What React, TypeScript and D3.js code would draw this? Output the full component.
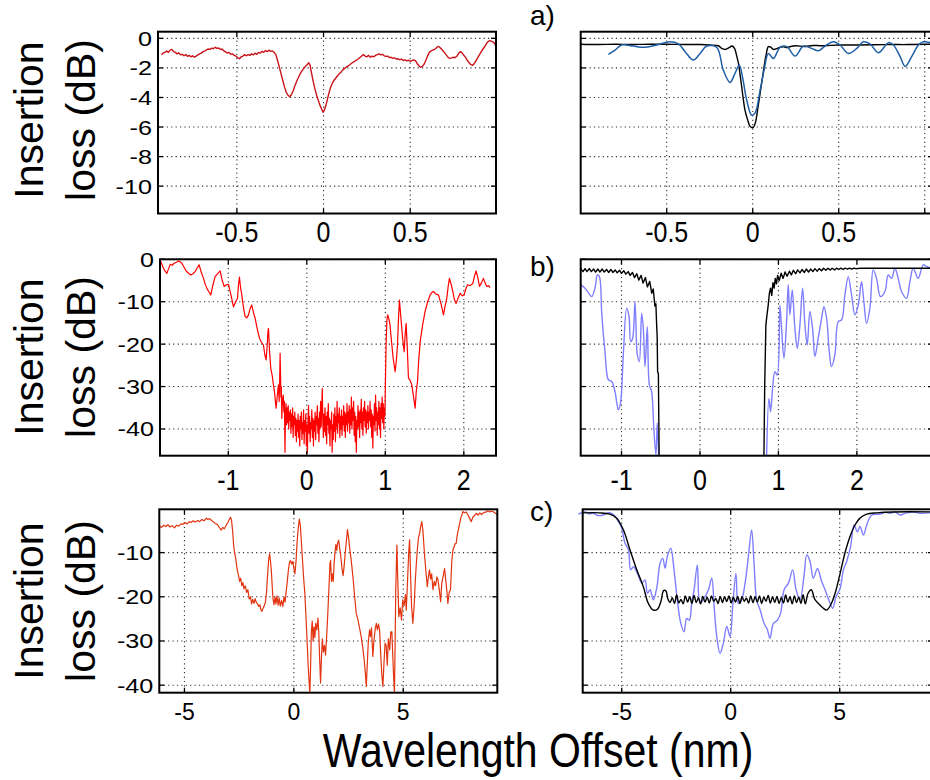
import React from 'react';
import * as d3 from 'd3';

type Pt = [number, number];

// ---------- DATA ----------
// a) measured (left) – insertion loss vs wavelength offset
const aMeasured: Pt[] = [
[-0.935,-1.1],[-0.925,-1.0],[-0.915,-0.95],[-0.905,-0.85],[-0.895,-0.95],[-0.885,-0.8],[-0.875,-0.75],[-0.865,-0.9],[-0.855,-0.95],[-0.845,-1.05],[-0.835,-0.98],[-0.825,-1.12],[-0.815,-1.08],[-0.805,-1.18],[-0.795,-1.1],[-0.785,-1.22],[-0.775,-1.15],[-0.765,-1.25],[-0.755,-1.18],[-0.745,-1.27],[-0.735,-1.2],[-0.725,-1.12],[-0.715,-1.05],[-0.705,-1.0],[-0.695,-0.9],[-0.685,-0.85],[-0.675,-0.78],[-0.665,-0.72],[-0.655,-0.75],[-0.645,-0.66],[-0.635,-0.7],[-0.625,-0.6],[-0.615,-0.68],[-0.605,-0.65],[-0.595,-0.75],[-0.585,-0.72],[-0.575,-0.85],[-0.565,-0.92],[-0.555,-1.0],[-0.545,-0.95],[-0.535,-1.08],[-0.525,-1.05],[-0.515,-1.15],[-0.505,-1.2],[-0.495,-1.32],[-0.485,-1.38],[-0.475,-1.25],[-0.465,-1.2],[-0.455,-1.1],[-0.445,-1.18],[-0.435,-1.1],[-0.425,-1.15],[-0.415,-1.05],[-0.405,-1.12],[-0.395,-1.0],[-0.385,-1.08],[-0.375,-0.95],[-0.365,-1.0],[-0.355,-0.88],[-0.345,-0.95],[-0.335,-0.82],[-0.325,-0.9],[-0.315,-0.8],[-0.305,-0.88],[-0.295,-0.85],[-0.285,-0.95],[-0.275,-1.1],[-0.265,-1.5],[-0.255,-1.95],[-0.245,-2.4],[-0.235,-2.85],[-0.225,-3.3],[-0.215,-3.65],[-0.205,-3.85],[-0.195,-3.95],[-0.185,-3.8],[-0.175,-3.55],[-0.165,-3.2],[-0.155,-2.9],[-0.145,-2.65],[-0.135,-2.4],[-0.125,-2.2],[-0.115,-2.05],[-0.105,-1.9],[-0.095,-1.78],[-0.085,-1.65],[-0.078,-1.8],[-0.07,-2.3],[-0.06,-2.9],[-0.05,-3.4],[-0.04,-3.85],[-0.03,-4.2],[-0.02,-4.55],[-0.01,-4.8],[-0.003,-5.0],[0.005,-4.85],[0.012,-4.6],[0.02,-4.25],[0.03,-3.75],[0.04,-3.35],[0.05,-3.05],[0.06,-2.85],[0.07,-2.7],[0.08,-2.55],[0.09,-2.4],[0.1,-2.3],[0.11,-2.15],[0.12,-2.05],[0.13,-1.95],[0.14,-1.88],[0.15,-1.8],[0.16,-1.7],[0.17,-1.62],[0.18,-1.55],[0.19,-1.48],[0.2,-1.4],[0.21,-1.3],[0.22,-1.2],[0.23,-1.1],[0.24,-1.2],[0.25,-1.25],[0.26,-1.15],[0.27,-1.28],[0.28,-1.2],[0.29,-1.25],[0.3,-1.15],[0.31,-1.1],[0.32,-1.05],[0.33,-1.12],[0.34,-1.08],[0.35,-1.18],[0.36,-1.22],[0.37,-1.2],[0.38,-1.3],[0.39,-1.28],[0.4,-1.35],[0.41,-1.32],[0.42,-1.4],[0.43,-1.38],[0.44,-1.45],[0.45,-1.4],[0.46,-1.5],[0.47,-1.45],[0.48,-1.52],[0.49,-1.48],[0.5,-1.55],[0.51,-1.5],[0.52,-1.45],[0.53,-1.5],[0.54,-1.7],[0.55,-1.85],[0.56,-1.95],[0.57,-1.9],[0.58,-1.75],[0.59,-1.5],[0.6,-1.2],[0.61,-0.95],[0.62,-0.85],[0.63,-0.8],[0.64,-0.75],[0.65,-0.65],[0.66,-0.55],[0.67,-0.6],[0.68,-0.72],[0.69,-0.85],[0.7,-1.0],[0.71,-1.15],[0.72,-1.3],[0.73,-1.35],[0.74,-1.32],[0.75,-1.28],[0.76,-1.3],[0.77,-1.2],[0.78,-1.0],[0.79,-0.9],[0.8,-1.0],[0.81,-1.15],[0.82,-1.3],[0.83,-1.5],[0.84,-1.65],[0.85,-1.78],[0.86,-1.82],[0.87,-1.7],[0.88,-1.5],[0.89,-1.3],[0.9,-1.1],[0.91,-0.9],[0.92,-0.72],[0.93,-0.55],[0.94,-0.35],[0.95,-0.2],[0.96,-0.15],[0.97,-0.2],[0.98,-0.25],[0.99,-0.4],[0.996,-0.6]
];

// a) simulated (right): black = design, blue = simulation
const aDesign: Pt[] = [
[-1.0,-0.4],[-0.9,-0.42],[-0.8,-0.4],[-0.7,-0.42],[-0.6,-0.4],[-0.5,-0.4],[-0.4,-0.42],[-0.3,-0.42],[-0.25,-0.45],[-0.2,-0.5],[-0.18,-0.68],[-0.16,-0.75],[-0.14,-0.65],[-0.12,-0.52],[-0.105,-0.7],[-0.095,-1.1],[-0.083,-1.7],[-0.073,-2.5],[-0.064,-3.28],[-0.055,-4.1],[-0.045,-4.86],[-0.03,-5.5],[-0.016,-5.94],[0,-6.05],[0.01,-5.9],[0.019,-5.54],[0.03,-4.7],[0.043,-3.73],[0.055,-2.8],[0.066,-1.92],[0.078,-1.1],[0.091,-0.56],[0.105,-0.6],[0.12,-0.75],[0.14,-0.7],[0.16,-0.6],[0.18,-0.58],[0.2,-0.62],[0.22,-0.55],[0.25,-0.5],[0.3,-0.55],[0.35,-0.48],[0.4,-0.5],[0.5,-0.45],[0.6,-0.45],[0.7,-0.43],[0.8,-0.42],[0.9,-0.42],[1.0,-0.4],[1.06,-0.4]
];
const aSim: Pt[] = [
[-0.839,-1.08],[-0.8,-0.79],[-0.762,-0.45],[-0.694,-0.52],[-0.636,-0.61],[-0.558,-0.45],[-0.48,-0.23],[-0.432,-0.38],[-0.393,-0.9],[-0.345,-1.47],[-0.306,-1.02],[-0.267,-0.52],[-0.209,-0.61],[-0.171,-2.15],[-0.132,-2.98],[-0.103,-2.37],[-0.078,-1.81],[-0.058,-2.71],[-0.035,-4.18],[-0.006,-5.2],[0.014,-5.04],[0.043,-3.5],[0.066,-2.15],[0.091,-1.02],[0.12,-1.36],[0.159,-0.61],[0.198,-0.56],[0.246,-1.2],[0.295,-0.52],[0.343,-0.68],[0.382,-0.84],[0.421,-0.52],[0.469,-0.23],[0.508,-0.45],[0.556,-1.02],[0.605,-0.68],[0.643,-0.23],[0.682,-0.38],[0.731,-0.97],[0.789,-0.29],[0.818,-0.45],[0.857,-1.24],[0.886,-1.9],[0.924,-1.24],[0.963,-0.45],[0.992,-0.23],[1.031,-0.29]
];

// b) measured (left)
const bMeasured: Pt[] = [
[-1.868,-0.16],[-1.85,-1.0],[-1.826,-2.1],[-1.805,-2.8],[-1.783,-3.3],[-1.76,-2.2],[-1.741,-1.2],[-1.715,-1.4],[-1.69,-0.94],[-1.66,-0.7],[-1.635,-0.4],[-1.61,-0.6],[-1.592,-0.94],[-1.565,-1.8],[-1.537,-2.75],[-1.505,-3.3],[-1.478,-3.7],[-1.45,-3.4],[-1.423,-2.9],[-1.395,-2.0],[-1.372,-1.3],[-1.345,-3.0],[-1.316,-4.5],[-1.295,-5.8],[-1.274,-6.8],[-1.25,-7.6],[-1.223,-8.4],[-1.195,-6.0],[-1.168,-4.1],[-1.135,-3.4],[-1.104,-2.75],[-1.08,-4.8],[-1.053,-6.4],[-1.025,-6.0],[-0.998,-5.9],[-0.965,-8.5],[-0.934,-11.2],[-0.91,-10.2],[-0.883,-9.2],[-0.87,-6.0],[-0.858,-4.2],[-0.845,-6.5],[-0.828,-8.4],[-0.81,-11.0],[-0.786,-13.5],[-0.765,-13.8],[-0.743,-13.1],[-0.72,-11.5],[-0.701,-10.8],[-0.68,-12.5],[-0.658,-13.9],[-0.63,-16.5],[-0.603,-18.6],[-0.58,-19.5],[-0.552,-20.2],[-0.535,-22.5],[-0.518,-23.7],[-0.505,-20.5],[-0.495,-17.0],[-0.488,-16.3],[-0.475,-21.5],[-0.459,-25.7],[-0.44,-27.5],[-0.425,-29.6],[-0.41,-31.5],[-0.4,-33.5],[-0.391,-35.1],[-0.38,-33.0],[-0.37,-31.0],[-0.361,-29.6],[-0.352,-33.5],[-0.345,-28.0],[-0.34,-22.2],[-0.335,-27.0],
[-0.33,-32.5],[-0.325,-30],[-0.318,-37.5],[-0.31,-33],[-0.3,-32],[-0.292,-36],[-0.285,-33.5],[-0.278,-45.5],[-0.272,-37],[-0.265,-34],[-0.258,-39],[-0.251,-35],[-0.244,-38.5],[-0.237,-34.5],[-0.23,-40],[-0.223,-36],[-0.216,-38],[-0.209,-35.5],[-0.202,-41],[-0.195,-36.5],[-0.188,-39.5],[-0.181,-35],[-0.174,-42],[-0.167,-37],[-0.16,-39],[-0.153,-36],[-0.146,-41.5],[-0.139,-37.5],[-0.132,-43],[-0.125,-38],[-0.118,-40.5],[-0.111,-36.5],[-0.104,-42],[-0.097,-38],[-0.09,-44],[-0.083,-37],[-0.076,-40],[-0.069,-36],[-0.062,-42.5],[-0.055,-38.5],[-0.048,-41],[-0.041,-35.5],[-0.034,-43.5],[-0.027,-38],[-0.02,-40.5],[-0.013,-36.5],[-0.006,-44],[0.001,-39],[0.008,-45.5],[0.015,-38],[0.022,-34.5],[0.029,-41],[0.036,-37],[0.043,-43],[0.05,-38.5],[0.057,-40],[0.064,-35.5],[0.071,-42],[0.078,-37.5],[0.085,-44],[0.092,-38],[0.099,-40.5],[0.106,-36],[0.113,-42.5],[0.12,-37],[0.127,-39],[0.134,-34.5],[0.141,-41],[0.148,-37.5],[0.155,-43],[0.162,-36],[0.169,-40],[0.176,-33.5],[0.183,-39.5],[0.19,-35],[0.197,-30.5],[0.204,-38],[0.211,-42],[0.218,-36.5],[0.225,-40.5],[0.232,-35],[0.239,-41.5],[0.246,-37],[0.253,-43.5],[0.26,-36],[0.267,-39],[0.274,-34],[0.281,-41],[0.288,-37.5],[0.295,-44],[0.302,-38],[0.309,-40],[0.316,-36],[0.323,-45.5],[0.33,-39],[0.337,-42.5],[0.344,-36.5],[0.351,-40.5],[0.358,-35],[0.365,-43],[0.372,-37],[0.379,-39.5],[0.386,-33.5],[0.393,-41],[0.4,-36.5],[0.407,-38.5],[0.414,-35],[0.421,-42],[0.428,-37],[0.435,-40],[0.442,-35.5],[0.449,-41.5],[0.456,-37],[0.463,-39],[0.47,-34.5],[0.477,-40.5],[0.484,-36],[0.491,-42],[0.498,-36.5],[0.505,-39],[0.512,-34],[0.519,-40.5],[0.526,-36],[0.533,-38.5],[0.54,-34.5],[0.547,-41],[0.554,-35.5],[0.561,-39],[0.568,-32.5],[0.575,-40],[0.582,-35],[0.589,-38],[0.596,-33.5],[0.603,-41.5],[0.61,-36],[0.617,-43],[0.624,-37],[0.631,-45.5],[0.638,-38],[0.645,-40],[0.652,-34.5],[0.659,-39.5],[0.666,-36],[0.673,-42],[0.68,-35.5],[0.687,-38.5],[0.694,-33],[0.701,-40],[0.708,-36],[0.715,-41.5],[0.722,-35],[0.729,-38],[0.736,-33.5],[0.743,-39.5],[0.75,-35.5],[0.757,-41],[0.764,-36],[0.771,-38.5],[0.778,-34.5],[0.785,-40],[0.792,-36],[0.799,-38],[0.806,-33.5],[0.813,-39.5],[0.82,-35.5],[0.827,-42],[0.834,-36.5],[0.841,-44.5],[0.848,-37],[0.855,-39],[0.862,-34],[0.869,-40.5],[0.876,-32],[0.883,-38],[0.89,-35],[0.897,-41.5],[0.904,-36],[0.911,-39],[0.918,-33.5],[0.925,-40],[0.932,-35],[0.939,-42],[0.946,-34],[0.953,-37.5],[0.96,-32.5],[0.967,-38.5],[0.974,-34],[0.981,-40],[0.988,-35],[0.995,-37],
[1.0,-30.4],[1.01,-20.0],[1.02,-14.5],[1.03,-13.1],[1.045,-14.0],[1.06,-15.5],[1.08,-19.5],[1.1,-23.3],[1.125,-26.5],[1.14,-24.0],[1.155,-20.2],[1.168,-14.0],[1.18,-9.6],[1.195,-13.0],[1.21,-16.3],[1.225,-19.5],[1.24,-21.8],[1.252,-18.0],[1.265,-15.1],[1.28,-21.0],[1.295,-28.0],[1.315,-28.5],[1.338,-29.6],[1.36,-32.5],[1.38,-35.1],[1.395,-31.0],[1.41,-28.8],[1.425,-24.0],[1.444,-19.4],[1.475,-15.5],[1.507,-12.3],[1.54,-10.0],[1.571,-8.4],[1.595,-7.8],[1.614,-7.6],[1.645,-8.2],[1.677,-8.4],[1.71,-10.5],[1.741,-13.1],[1.762,-11.0],[1.783,-9.2],[1.8,-6.5],[1.817,-4.5],[1.84,-6.0],[1.86,-7.6],[1.88,-9.5],[1.902,-10.4],[1.93,-9.0],[1.953,-8.0],[1.98,-8.6],[2.004,-8.4],[2.025,-7.0],[2.047,-6.0],[2.08,-6.2],[2.115,-5.7],[2.135,-4.0],[2.157,-2.75],[2.18,-4.5],[2.2,-6.4],[2.225,-5.5],[2.25,-4.5],[2.27,-5.5],[2.293,-6.4],[2.315,-6.2],[2.335,-6.7]
];

// b) simulated (right)
const bDesign: Pt[] = [
[-1.52,-2.2],[-1.49,-2.9],[-1.465,-2.2],[-1.44,-2.9],[-1.41,-2.2],[-1.385,-2.9],[-1.355,-2.3],[-1.33,-3.0],[-1.3,-2.3],[-1.275,-3.0],[-1.245,-2.3],[-1.22,-3.0],[-1.19,-2.4],[-1.165,-3.1],[-1.135,-2.4],[-1.11,-3.1],[-1.08,-2.5],[-1.055,-3.2],[-1.025,-2.6],[-1.0,-3.3],[-0.97,-2.7],[-0.945,-3.5],[-0.915,-2.9],[-0.89,-3.8],[-0.86,-3.1],[-0.835,-4.3],[-0.805,-3.4],[-0.78,-4.9],[-0.75,-3.8],[-0.725,-5.6],[-0.695,-4.3],[-0.67,-6.5],[-0.64,-5.2],[-0.615,-8.0],[-0.595,-7.0],[-0.575,-11.0],[-0.562,-10.5],[-0.552,-15.5],[-0.545,-18.5],[-0.54,-26.5],[-0.53,-27.0],[-0.525,-37.0],[-0.52,-47.0]
];
const bDesignRight: Pt[] = [
[0.815,-47.0],[0.825,-30.0],[0.84,-15.5],[0.855,-13.0],[0.87,-10.8],[0.885,-8.0],[0.9,-6.8],[0.915,-8.5],[0.93,-5.5],[0.945,-6.8],[0.96,-4.5],[0.975,-5.8],[0.99,-3.8],[1.01,-5.0],[1.035,-3.3],[1.06,-4.5],[1.085,-3.0],[1.11,-4.0],[1.14,-2.8],[1.165,-3.7],[1.19,-2.6],[1.22,-3.4],[1.245,-2.5],[1.275,-3.2],[1.3,-2.4],[1.33,-3.1],[1.355,-2.3],[1.385,-3.0],[1.41,-2.3],[1.44,-2.9],[1.465,-2.2],[1.495,-2.8],[1.52,-2.2],[1.55,-2.7],[1.575,-2.1],[1.605,-2.6],[1.63,-2.1],[1.66,-2.5],[1.685,-2.1],[1.715,-2.5],[1.74,-2.1],[1.77,-2.4],[1.795,-2.1],[1.825,-2.4],[1.85,-2.1],[1.88,-2.3],[1.905,-2.1],[1.935,-2.3],[1.96,-2.1],[1.99,-2.2],[2.05,-2.1],[2.2,-2.1],[2.5,-2.1],[2.98,-2.1]
];
const bSim: Pt[] = [
[-1.52,-6.05],[-1.465,-6.8],[-1.42,-7.9],[-1.38,-8.8],[-1.338,-6.8],[-1.308,-3.7],[-1.282,-4.1],[-1.253,-12.3],[-1.23,-18.0],[-1.21,-21.8],[-1.19,-26.5],[-1.168,-28.4],[-1.125,-28.8],[-1.083,-31.2],[-1.06,-33.8],[-1.04,-35.5],[-1.011,-33.6],[-0.977,-22.5],[-0.934,-11.5],[-0.904,-13.5],[-0.883,-19.4],[-0.858,-18.6],[-0.828,-10.0],[-0.798,-22.5],[-0.773,-24.1],[-0.743,-12.7],[-0.722,-16.3],[-0.7,-25.3],[-0.671,-15.9],[-0.645,-29.6],[-0.616,-31.2],[-0.586,-40.6],[-0.561,-46.1],[-0.544,-38.6],[-0.527,-46.1]
];
const bSimRight: Pt[] = [
[0.849,-46.5],[0.879,-32.8],[0.9,-35.9],[0.926,-30.4],[0.955,-26.5],[0.985,-27.3],[1.019,-10.8],[1.04,-16.3],[1.07,-23.3],[1.104,-14.7],[1.125,-6.0],[1.146,-13.1],[1.176,-7.2],[1.21,-16.3],[1.24,-21.0],[1.274,-15.5],[1.308,-6.8],[1.338,-15.5],[1.367,-20.2],[1.401,-12.3],[1.435,-16.3],[1.465,-22.9],[1.507,-18.6],[1.55,-13.9],[1.58,-11.2],[1.614,-13.9],[1.648,-21.8],[1.677,-25.3],[1.72,-22.5],[1.762,-14.7],[1.805,-14.3],[1.847,-8.4],[1.89,-4.1],[1.932,-8.4],[1.975,-13.1],[2.017,-10.8],[2.059,-5.3],[2.089,-10.0],[2.123,-15.1],[2.166,-11.5],[2.208,-2.5],[2.25,-4.5],[2.301,-8.8],[2.357,-7.6],[2.399,-3.7],[2.442,-4.5],[2.484,-2.1],[2.527,-4.5],[2.569,-7.6],[2.633,-9.2],[2.675,-5.3],[2.718,-2.1],[2.781,-4.5],[2.845,-1.3],[2.888,-1.7],[2.93,-2.0]
];

// c) measured (left)
const cMeasured: Pt[] = [
[-6.15,-4.0],[-6.05,-4.3],[-5.95,-3.8],[-5.85,-4.1],[-5.76,-3.7],[-5.66,-4.2],[-5.56,-3.9],[-5.46,-4.4],[-5.36,-3.8],[-5.26,-4.0],[-5.16,-3.5],[-5.08,-3.6],[-4.98,-3.2],[-4.88,-3.5],[-4.78,-3.0],[-4.7,-3.2],[-4.6,-2.8],[-4.5,-3.1],[-4.4,-2.7],[-4.31,-3.0],[-4.2,-2.5],[-4.1,-2.8],[-4.0,-2.2],[-3.93,-2.5],[-3.85,-2.3],[-3.75,-2.8],[-3.68,-3.0],[-3.6,-3.4],[-3.5,-3.6],[-3.42,-4.2],[-3.32,-4.9],[-3.25,-4.3],[-3.18,-4.6],[-3.09,-3.8],[-3.0,-3.0],[-2.9,-2.0],[-2.85,-2.6],[-2.8,-5.0],[-2.75,-8.5],[-2.71,-10.0],[-2.65,-11.5],[-2.6,-13.5],[-2.53,-15.1],[-2.48,-16.5],[-2.43,-15.8],[-2.38,-17.5],[-2.33,-16.8],[-2.28,-18.2],[-2.22,-17.5],[-2.16,-19.0],[-2.1,-18.4],[-2.04,-20.5],[-1.98,-20.0],[-1.93,-21.6],[-1.88,-20.6],[-1.82,-21.5],[-1.77,-20.4],[-1.72,-21.2],[-1.66,-21.6],[-1.6,-22.2],[-1.55,-21.8],[-1.5,-23.0],[-1.46,-23.3],[-1.4,-22.5],[-1.35,-22.0],[-1.3,-21.2],[-1.25,-19.0],[-1.2,-15.0],[-1.15,-11.5],[-1.11,-10.3],[-1.07,-11.8],[-1.03,-14.0],[-0.99,-17.5],[-0.95,-20.5],[-0.91,-21.8],[-0.86,-20.0],[-0.82,-21.6],[-0.77,-19.8],[-0.72,-21.9],[-0.67,-20.3],[-0.62,-22.1],[-0.56,-20.8],[-0.5,-22.2],[-0.45,-20.0],[-0.4,-21.2],[-0.35,-18.8],[-0.3,-16.5],[-0.25,-14.0],[-0.2,-12.2],[-0.15,-11.8],[-0.1,-12.6],[-0.05,-12.0],[0.0,-13.5],[0.05,-14.8],[0.1,-12.0],[0.15,-7.5],[0.2,-4.5],[0.25,-2.4],[0.3,-4.0],[0.35,-8.0],[0.4,-12.0],[0.45,-16.0],[0.5,-19.0],[0.55,-24.0],[0.6,-29.5],[0.65,-35.0],[0.7,-39.5],[0.73,-41.8],[0.76,-37.0],[0.8,-28.0],[0.84,-25.5],[0.88,-30.0],[0.92,-26.8],[0.96,-29.2],[1.0,-26.0],[1.05,-27.5],[1.1,-24.8],[1.14,-28.0],[1.18,-34.0],[1.22,-39.5],[1.26,-34.0],[1.3,-29.5],[1.35,-32.5],[1.4,-31.0],[1.45,-33.2],[1.5,-29.0],[1.55,-24.0],[1.6,-18.5],[1.65,-12.5],[1.68,-11.8],[1.72,-16.5],[1.76,-14.8],[1.8,-16.5],[1.84,-12.5],[1.88,-10.0],[1.92,-8.2],[1.96,-9.5],[2.0,-7.8],[2.05,-7.2],[2.09,-8.8],[2.14,-10.5],[2.2,-13.5],[2.25,-15.2],[2.3,-13.0],[2.35,-10.0],[2.4,-7.5],[2.45,-4.8],[2.5,-6.5],[2.55,-9.0],[2.6,-10.8],[2.66,-13.5],[2.72,-16.5],[2.78,-20.0],[2.85,-23.7],[2.92,-25.0],[3.0,-27.0],[3.08,-29.0],[3.15,-31.5],[3.22,-34.5],[3.28,-38.0],[3.31,-40.3],[3.35,-36.0],[3.4,-30.5],[3.46,-27.5],[3.5,-29.0],[3.55,-27.0],[3.61,-33.5],[3.66,-30.0],[3.72,-27.2],[3.77,-26.0],[3.82,-27.5],[3.87,-26.2],[3.92,-27.5],[3.97,-33.0],[4.02,-37.5],[4.07,-40.3],[4.12,-35.0],[4.17,-30.5],[4.22,-31.0],[4.27,-35.5],[4.32,-29.5],[4.38,-32.0],[4.43,-28.0],[4.48,-27.9],[4.52,-33.0],[4.56,-38.0],[4.6,-41.8],[4.63,-30.0],[4.66,-18.0],[4.71,-8.3],[4.75,-16.0],[4.8,-24.5],[4.86,-22.5],[4.92,-25.2],[4.98,-20.7],[5.04,-22.0],[5.1,-19.5],[5.14,-23.0],[5.2,-16.0],[5.25,-10.0],[5.29,-7.1],[5.33,-14.0],[5.38,-22.0],[5.44,-26.0],[5.5,-22.0],[5.55,-16.5],[5.59,-13.2],[5.65,-9.0],[5.7,-6.5],[5.75,-5.6],[5.8,-4.0],[5.85,-3.0],[5.9,-5.0],[5.94,-8.0],[5.98,-10.9],[6.04,-14.5],[6.1,-17.7],[6.15,-15.5],[6.2,-13.9],[6.25,-16.0],[6.3,-14.8],[6.36,-18.4],[6.42,-16.5],[6.48,-17.5],[6.54,-15.5],[6.59,-16.2],[6.65,-18.5],[6.71,-21.1],[6.76,-17.0],[6.82,-15.5],[6.89,-13.6],[6.94,-16.0],[7.0,-19.0],[7.04,-21.5],[7.1,-19.0],[7.16,-18.4],[7.22,-12.0],[7.27,-9.4],[7.32,-8.8],[7.37,-8.0],[7.42,-7.9],[7.47,-6.0],[7.52,-4.8],[7.58,-3.4],[7.63,-2.2],[7.68,-1.5],[7.73,-0.7],[7.8,-1.0],[7.88,-0.8],[7.96,-1.5],[8.03,-2.2],[8.11,-3.0],[8.18,-2.0],[8.26,-1.6],[8.34,-1.1],[8.42,-1.5],[8.5,-1.0],[8.58,-1.4],[8.64,-1.1],[8.72,-0.9],[8.8,-0.8],[8.87,-0.5],[8.95,-0.8],[9.03,-0.6],[9.1,-0.7],[9.18,-1.0],[9.25,-1.2],[9.3,-1.5]
];

// c) simulated (right)
const cDesign: Pt[] = [
[-6.79,-1.0],[-6.0,-1.0],[-5.54,-1.3],[-5.23,-2.2],[-4.92,-4.9],[-4.62,-9.4],[-4.31,-13.9],[-4.01,-17.7],[-3.78,-21.5],[-3.55,-23.0],[-3.36,-22.8],[-3.2,-21.0],[-3.08,-18.6],[-2.98,-18.6],[-2.88,-20.5],[-2.78,-21.3],[-2.68,-20.2],[-2.58,-21.5],[-2.48,-19.6],[-2.38,-21.4],[-2.28,-20.6],[-2.18,-21.6],[-2.08,-19.8],[-1.98,-21.2],[-1.88,-20.0],[-1.78,-21.5],[-1.68,-19.7],[-1.58,-21.3],[-1.48,-20.2],[-1.38,-21.6],[-1.28,-19.9],[-1.18,-21.2],[-1.08,-20.1],[-0.98,-21.4],[-0.88,-19.8],[-0.78,-21.0],[-0.68,-20.4],[-0.58,-21.5],[-0.48,-19.9],[-0.38,-21.3],[-0.28,-20.0],[-0.18,-21.1],[-0.08,-19.8],[0.02,-21.4],[0.12,-20.1],[0.22,-21.2],[0.32,-19.9],[0.42,-21.5],[0.52,-20.0],[0.62,-21.0],[0.72,-20.3],[0.82,-21.4],[0.92,-19.8],[1.02,-21.3],[1.12,-20.0],[1.22,-21.2],[1.32,-19.8],[1.42,-21.5],[1.52,-20.1],[1.62,-21.0],[1.72,-19.7],[1.82,-21.4],[1.92,-20.0],[2.02,-21.3],[2.12,-19.9],[2.22,-21.5],[2.32,-20.2],[2.42,-21.4],[2.52,-19.6],[2.62,-21.2],[2.72,-20.0],[2.82,-21.6],[2.92,-19.8],[3.02,-21.3],[3.12,-20.1],[3.22,-21.5],[3.32,-19.5],[3.42,-21.6],[3.55,-19.2],[3.7,-18.4],[3.85,-20.5],[4.02,-21.5],[4.25,-22.6],[4.4,-23.0],[4.59,-21.8],[4.79,-19.2],[5.02,-14.7],[5.24,-10.1],[5.47,-6.4],[5.7,-3.75],[5.93,-2.2],[6.24,-1.3],[6.7,-1.0],[7.46,-0.8],[9.3,-0.8]
];
const cSim: Pt[] = [
[-6.99,-1.3],[-6.68,-0.8],[-6.5,-1.2],[-6.3,-1.1],[-6.1,-1.6],[-5.84,-1.5],[-5.65,-1.0],[-5.46,-1.1],[-5.3,-1.8],[-5.15,-3.0],[-5.0,-4.5],[-4.85,-7.9],[-4.69,-9.4],[-4.59,-13.9],[-4.46,-13.2],[-4.28,-14.7],[-4.08,-16.9],[-3.93,-16.2],[-3.82,-19.2],[-3.7,-18.4],[-3.55,-20.7],[-3.39,-17.9],[-3.24,-12.4],[-3.12,-11.3],[-3.01,-13.5],[-2.91,-10.9],[-2.75,-9.0],[-2.6,-13.9],[-2.45,-20.7],[-2.29,-26.0],[-2.14,-27.9],[-2.02,-24.9],[-1.9,-25.3],[-1.79,-21.5],[-1.68,-18.4],[-1.53,-12.8],[-1.41,-21.5],[-1.22,-20.3],[-1.02,-18.4],[-0.87,-15.8],[-0.76,-22.2],[-0.64,-29.0],[-0.49,-32.8],[-0.34,-30.5],[-0.18,-26.7],[-0.03,-29.0],[0.09,-22.2],[0.24,-14.7],[0.35,-21.5],[0.5,-20.7],[0.66,-16.9],[0.81,-10.9],[0.96,-4.9],[1.07,-12.4],[1.19,-20.7],[1.35,-23.0],[1.53,-26.0],[1.68,-27.4],[1.8,-29.4],[1.96,-26.0],[2.14,-25.3],[2.29,-23.7],[2.45,-18.4],[2.65,-16.9],[2.84,-13.9],[3.0,-18.4],[3.18,-20.7],[3.36,-15.4],[3.49,-10.5],[3.64,-12.0],[3.79,-15.8],[3.98,-13.6],[4.17,-16.5],[4.33,-18.4],[4.53,-21.1],[4.68,-22.6],[4.83,-20.0],[5.02,-18.1],[5.17,-13.9],[5.32,-12.0],[5.5,-8.6],[5.66,-3.75],[5.81,-5.3],[5.93,-4.1],[6.09,-6.0],[6.24,-3.75],[6.47,-1.5],[6.85,-1.3],[7.1,-0.9],[7.31,-1.1],[7.55,-0.8],[7.77,-1.5],[8.07,-1.0],[8.4,-0.8],[8.69,-1.1],[9.14,-1.0],[9.3,-0.9]
];

// axis ticks
const xTicksA = [-0.5, 0, 0.5, 1];
const yTicksA = [0, -2, -4, -6, -8, -10];
const xTicksB = [-1, 0, 1, 2];
const yTicksB = [0, -10, -20, -30, -40];
const xTicksC = [-5, 0, 5];
const yTicksC = [-10, -20, -30, -40];
const panelTags = ['a)', 'b)', 'c)'];
const yTitleLines = ['Insertion', 'loss (dB)'];
const xTitle = 'Wavelength Offset (nm)';

// ---------- STYLES ----------
const FONT = "'Liberation Sans', Arial, Helvetica, sans-serif";
const RED_A = '#c8141a';
const RED_B = '#ff0000';
const RED_C = '#e2340f';
const BLUE_A = '#1f5fa6';
const BLUE_L = '#7f7fff';

interface Series { data: Pt[]; color: string; width: number; smooth?: boolean }
interface PanelProps {
  id: string;
  box: [number, number, number, number]; // left, top, right, bottom
  xDomain: [number, number];
  yDomain: [number, number];
  xTicks: number[];
  yTicks: number[];
  xLabelSkip?: number[];
  showY: boolean;
  xFont: number; xScaleY: number; xBase: number;
  series: Series[];
}

function Panel(p: PanelProps) {
  const [l, t, r, b] = p.box;
  const x = d3.scaleLinear().domain(p.xDomain).range([l, r]);
  const y = d3.scaleLinear().domain(p.yDomain).range([b, t]);
  const xt = p.xTicks.filter(v => x(v) >= l - 0.5 && x(v) <= r + 0.5);
  const yt = p.yTicks.filter(v => y(v) >= t - 0.5 && y(v) <= b + 0.5);
  const TL = 5;
  return (
    <g>
      <defs>
        <clipPath id={p.id}>
          <rect x={l - 10} y={t - 4} width={r - l + 10} height={b - t + 4} />
        </clipPath>
      </defs>
      {xt.map(v => (
        <line key={'gx' + v} x1={x(v)} x2={x(v)} y1={t} y2={b} stroke="#333" strokeWidth={1.1} strokeDasharray="1.2 3.2" />
      ))}
      {yt.map(v => (
        <line key={'gy' + v} x1={l} x2={r} y1={y(v)} y2={y(v)} stroke="#333" strokeWidth={1.1} strokeDasharray="1.2 3.2" />
      ))}
      <g clipPath={`url(#${p.id})`}>
        {p.series.map((s, i) => {
          const gen = d3.line<Pt>().x(d => x(d[0])).y(d => y(d[1]));
          if (s.smooth) gen.curve(d3.curveCatmullRom.alpha(0.5));
          return <path key={i} d={gen(s.data) || ''} fill="none" stroke={s.color} strokeWidth={s.width} strokeLinejoin="round" />;
        })}
      </g>
      <rect x={l} y={t} width={r - l} height={b - t} fill="none" stroke="#000" strokeWidth={2} />
      {xt.map(v => (
        <g key={'tx' + v}>
          <line x1={x(v)} x2={x(v)} y1={b} y2={b - TL} stroke="#000" strokeWidth={1.3} />
          <line x1={x(v)} x2={x(v)} y1={t} y2={t + TL} stroke="#000" strokeWidth={1.3} />
        </g>
      ))}
      {yt.map(v => (
        <g key={'ty' + v}>
          <line x1={l} x2={l + TL} y1={y(v)} y2={y(v)} stroke="#000" strokeWidth={1.3} />
          <line x1={r} x2={r - TL} y1={y(v)} y2={y(v)} stroke="#000" strokeWidth={1.3} />
        </g>
      ))}
      {xt.filter(v => !(p.xLabelSkip || []).includes(v)).map(v => (
        <text key={'lx' + v} transform={`translate(${x(v)},${p.xBase}) scale(1,${p.xScaleY})`} textAnchor="middle"
          fontFamily={FONT} fontSize={p.xFont} fill="#000">{String(v)}</text>
      ))}
      {p.showY && yt.map(v => (
        <text key={'ly' + v} transform={`translate(${l - 6},${y(v) + 7.5}) scale(1.2,1)`} textAnchor="end"
          fontFamily={FONT} fontSize={21} fill="#000">{String(v)}</text>
      ))}
    </g>
  );
}

export default function App() {
  const rows = [
    { top: 31.7, bottom: 213.5, center: 120, tagY: 25 },
    { top: 259.3, bottom: 455.7, center: 357, tagY: 276 },
    { top: 509.3, bottom: 692.7, center: 601, tagY: 521 },
  ];
  return (
    <svg width={930} height={780} style={{ position: 'absolute', left: 0, top: 0, background: '#fff' }}>
      <rect x={0} y={0} width={930} height={780} fill="#fff" />
      <Panel id="c1" box={[158, rows[0].top, 496, rows[0].bottom]} xDomain={[-0.955, 0.995]} yDomain={[-11.85, 0.45]}
        xTicks={xTicksA} yTicks={yTicksA} showY xFont={25} xScaleY={1.2} xBase={241.5}
        series={[{ data: aMeasured, color: RED_A, width: 1.4 }]} />
      <Panel id="c2" box={[580.7, rows[0].top, 933, rows[0].bottom]} xDomain={[-1.0, 1.048]} yDomain={[-11.85, 0.45]}
        xTicks={xTicksA} yTicks={yTicksA} xLabelSkip={[1]} showY={false} xFont={25} xScaleY={1.2} xBase={241.5}
        series={[{ data: aDesign, color: '#000', width: 1.4, smooth: true }, { data: aSim, color: BLUE_A, width: 1.5, smooth: true }]} />
      <Panel id="c3" box={[160, rows[1].top, 496, rows[1].bottom]} xDomain={[-1.87, 2.41]} yDomain={[-46.3, 0]}
        xTicks={xTicksB} yTicks={yTicksB} showY xFont={25} xScaleY={1.2} xBase={490}
        series={[{ data: bMeasured, color: RED_B, width: 1.2 }]} />
      <Panel id="c4" box={[580.7, rows[1].top, 933, rows[1].bottom]} xDomain={[-1.52, 2.97]} yDomain={[-46.3, 0]}
        xTicks={xTicksB} yTicks={yTicksB} showY={false} xFont={25} xScaleY={1.2} xBase={490}
        series={[
          { data: bSim, color: BLUE_L, width: 1.4, smooth: true },
          { data: bSimRight, color: BLUE_L, width: 1.4, smooth: true },
          { data: bDesign, color: '#000', width: 1.4 },
          { data: bDesignRight, color: '#000', width: 1.4 },
        ]} />
      <Panel id="c5" box={[159.3, rows[2].top, 497.3, rows[2].bottom]} xDomain={[-6.15, 9.3]} yDomain={[-41.7, -0.2]}
        xTicks={xTicksC} yTicks={yTicksC} showY xFont={23} xScaleY={1.05} xBase={720}
        series={[{ data: cMeasured, color: RED_C, width: 1.2 }]} />
      <Panel id="c6" box={[582.7, rows[2].top, 933, rows[2].bottom]} xDomain={[-6.79, 9.28]} yDomain={[-41.7, -0.2]}
        xTicks={xTicksC} yTicks={yTicksC} showY={false} xFont={23} xScaleY={1.05} xBase={720}
        series={[
          { data: cSim, color: BLUE_L, width: 1.4, smooth: true },
          { data: cDesign, color: '#000', width: 1.4, smooth: true },
        ]} />
      {rows.map((r, i) => (
        <g key={'yt' + i} fontFamily={FONT} fontSize={41} fill="#000">
          <text transform={`translate(43,${r.center}) rotate(-90)`} textAnchor="middle">{yTitleLines[0]}</text>
          <text transform={`translate(95,${r.center}) rotate(-90)`} textAnchor="middle">{yTitleLines[1]}</text>
          <text x={530} y={r.tagY} fontSize={28}>{panelTags[i]}</text>
        </g>
      ))}
      <text transform="translate(538,767) scale(1,1.15)" textAnchor="middle" fontFamily={FONT} fontSize={41} fill="#000">{xTitle}</text>
    </svg>
  );
}
